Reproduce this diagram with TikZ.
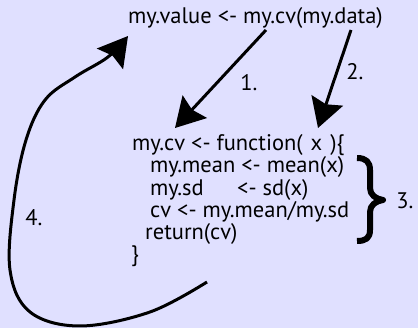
\documentclass[tikz,border=0pt]{standalone}
\usepackage{fontspec}
\setmainfont{PT Sans}
\usetikzlibrary{arrows.meta}
\definecolor{bgblue}{HTML}{E0E0FF}

\begin{document}
\begin{tikzpicture}[x=1pt, y=-1pt,
    code/.style={anchor=base west, inner sep=0pt, font=\fontsize{22.5}{24}\selectfont},
    num/.style={inner sep=0pt, font=\fontsize{22.5}{24}\selectfont},
    flow/.style={line width=3pt, -{Stealth[length=29pt, width=33pt, inset=4pt]}}]
  % canvas: 418 x 328 px
  \fill[bgblue] (0,0) rectangle (418,328);
  \useasboundingbox (0,0) rectangle (418,328);

  % the call
  \node[code] (call) at (128,24) {my.value <- my.cv(my.data)};

  % the function definition
  \node[code] (def)    at (132,151) {my.cv <- function(\hspace{8pt}x\hspace{8pt})\{};
  \node[code] (mean)   at (150,173) {my.mean <- mean(x)};
  \node[code] (sd)     at (150,196) {my.sd};
  \node[code] (sdval)  at (237,196) {<- sd(x)};
  \node[code] (cv)     at (150,218) {cv <- my.mean/my.sd};
  \node[code] (ret)    at (145,240) {return(cv)};
  \node[code] (close)  at (131,262) {\}};

  % end points of the arrows
  \coordinate (from1) at (266,30);
  \coordinate (to1)   at (175,128);
  \coordinate (from2) at (351,30);
  \coordinate (to2)   at (318,128);
  \coordinate (from4) at (207,282);
  \coordinate (to4)   at (128,36);

  % 1. and 2.: the call hands over function and data
  \draw[flow] (from1) -- (to1);
  \draw[flow] (from2) -- (to2);
  \node[num] (one) at (249,83) {1.};
  \node[num] (two) at (355,72) {2.};

  % 3.: the body is run
  \draw[line width=6pt, line join=round]
    (357,158) .. controls (366,158) and (370,162) .. (370,170) -- (370,188)
    .. controls (370,195) and (376,199) .. (383,200)
    .. controls (376,201) and (370,205) .. (370,212) -- (370,230)
    .. controls (370,238) and (366,241) .. (357,241);
  \node[num] (three) at (405,201) {3.};

  % 4.: the result goes back
  \draw[flow] plot[smooth, tension=0.6] coordinates {(from4) (150,312) (80,326) (30,312) (10,270) (14,200) (26,140) (45,100) (75,77) (108,57) (to4)};
  \node[num] (four) at (34,218) {4.};
\end{tikzpicture}
\end{document}
